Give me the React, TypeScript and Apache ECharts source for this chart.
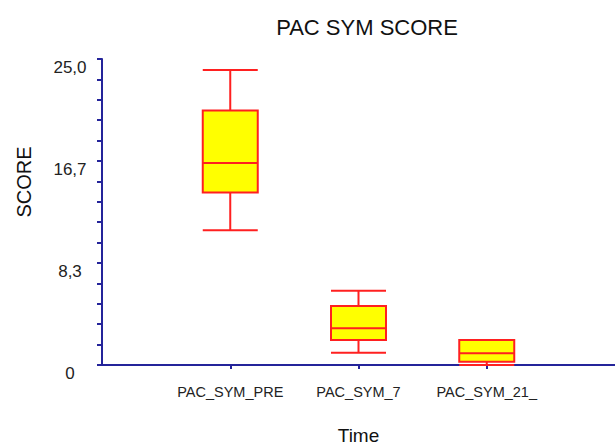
import React, { useEffect, useRef } from "react";
import * as echarts from "echarts";

const categories = ["", "PAC_SYM_PRE", "PAC_SYM_7", "PAC_SYM_21_", ""];
const lows = [11.0, 1.0, 0.0];
const q1s = [14.1, 2.05, 0.27];
const medians = [16.5, 3.0, 0.95];
const q3s = [20.8, 4.82, 2.05];
const highs = [24.1, 6.07, 2.05];

const AXIS = "#24249a";
const FONT = "'Liberation Sans', Arial, sans-serif";

export default function App() {
  const ref = useRef<HTMLDivElement>(null);
  useEffect(() => {
    const chart = echarts.init(ref.current!, null, { renderer: "svg" });
    const boxData: any[] = categories.map((c, i) => {
      const k = i - 1;
      if (k < 0 || k >= lows.length) return "-";
      return [lows[k], q1s[k], medians[k], q3s[k], highs[k]];
    });
    chart.setOption({
      animation: false,
      backgroundColor: "#ffffff",
      grid: { left: 102, right: 0, top: 59, bottom: 81, containLabel: false, outerBoundsMode: "none" },
      graphic: [
        {
          type: "text",
          x: 367,
          y: 27,
          style: {
            text: "PAC SYM SCORE",
            font: `22px ${FONT}`,
            fill: "#111",
            textAlign: "center",
            textVerticalAlign: "middle",
          },
        },
        {
          type: "text",
          x: 24,
          y: 182,
          rotation: Math.PI / 2,
          style: {
            text: "SCORE",
            font: `20px ${FONT}`,
            fill: "#111",
            textAlign: "center",
            textVerticalAlign: "middle",
          },
        },
      ],
      xAxis: {
        type: "category",
        data: categories,
        boundaryGap: false,
        name: "Time",
        nameLocation: "middle",
        nameGap: 61,
        nameTextStyle: { fontFamily: FONT, fontSize: 19, lineHeight: 19, color: "#111" },
        axisLine: { lineStyle: { color: AXIS, width: 2 } },
        axisTick: {
          show: true,
          length: 4,
          interval: (index: number, value: string) => value !== "",
          lineStyle: { color: AXIS, width: 2 },
        },
        axisLabel: {
          interval: 0,
          margin: 19,
          fontFamily: FONT,
          fontSize: 14.5,
          color: "#222",
        },
        splitLine: { show: false },
      },
      yAxis: {
        type: "value",
        min: 0,
        max: 25,
        interval: 25 / 3,
        axisLine: { show: true, lineStyle: { color: AXIS, width: 2 } },
        axisTick: { show: true, length: 5, lineStyle: { color: AXIS, width: 2 } },
        minorTick: { show: true, splitNumber: 5, length: 5, lineStyle: { color: AXIS, width: 2 } },
        axisLabel: {
          margin: 32,
          align: "center",
          verticalAlign: "top",
          fontFamily: FONT,
          fontSize: 17,
          color: "#222",
          formatter: (v: number) => (v === 0 ? "0" : v.toFixed(1).replace(".", ",")),
        },
        splitLine: { show: false },
      },
      series: [
        {
          type: "boxplot",
          data: boxData,
          boxWidth: [55, 55],
          itemStyle: { color: "#ffff00", borderColor: "#ff2020", borderWidth: 2 },
          emphasis: { disabled: true },
        },
      ],
    });
    return () => chart.dispose();
  }, []);
  return <div ref={ref} style={{ width: 615, height: 446, position: "absolute", left: 0, top: 0 }} />;
}
